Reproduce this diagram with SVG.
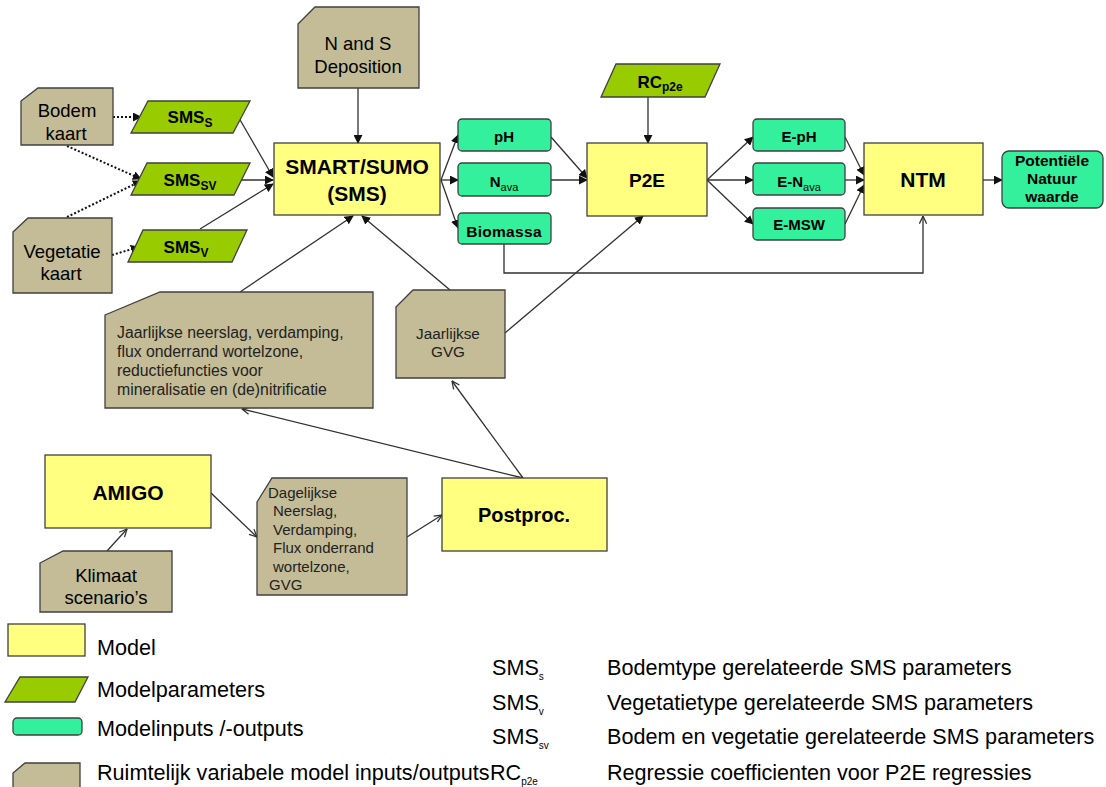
<svg xmlns="http://www.w3.org/2000/svg" width="1106" height="787" viewBox="0 0 1106 787">
<style>
text{font-family:"Liberation Sans",Arial,sans-serif;fill:#000}
.model{fill:#FFFF80;stroke:#404040;stroke-width:1.3}
.param{fill:#99CC00;stroke:#404040;stroke-width:1.3}
.io{fill:#33F09C;stroke:#404040;stroke-width:1.3}
.tan{fill:#C4BC96;stroke:#404040;stroke-width:1.3}
.b{font-weight:bold}
.c{text-anchor:middle}
.ln{fill:none;stroke:#303030;stroke-width:1.3}
.dot{fill:none;stroke:#111;stroke-width:2;stroke-dasharray:2 2}
.leg{font-size:21.6px}
.sm{fill:#222}
</style>
<defs>
<marker id="af" viewBox="0 0 10 10" refX="9" refY="5" markerWidth="9" markerHeight="9" markerUnits="userSpaceOnUse" orient="auto">
<path d="M0,0 L10,5 L0,10 Z" fill="#111"/>
</marker>
<marker id="ao" viewBox="0 0 10 10" refX="9.5" refY="5" markerWidth="9" markerHeight="9" markerUnits="userSpaceOnUse" orient="auto">
<path d="M1,1 L9.5,5 L1,9" fill="none" stroke="#303030" stroke-width="1.4"/>
</marker>
</defs>

<g id="connectors">
<path class="dot" d="M113,117 L141,117" marker-end="url(#af)"/>
<path class="dot" d="M67,146 L141,179" marker-end="url(#af)"/>
<path class="dot" d="M67,217 L141,181" marker-end="url(#af)"/>
<path class="dot" d="M112,255 L139,247" marker-end="url(#af)"/>
<path class="ln" d="M239,118 L273,177" marker-end="url(#af)"/>
<path class="ln" d="M238,180 L273,180" marker-end="url(#af)"/>
<path class="ln" d="M200,229 L273,184" marker-end="url(#af)"/>
<path class="ln" d="M358,88 L358,143" marker-end="url(#af)"/>
<path class="ln" d="M240,292 L353,216" marker-end="url(#af)"/>
<path class="ln" d="M450,290 L362,216" marker-end="url(#af)"/>
<path class="ln" d="M441,180 L458,135" marker-end="url(#af)"/>
<path class="ln" d="M441,180 L458,180" marker-end="url(#af)"/>
<path class="ln" d="M441,180 L458,228" marker-end="url(#af)"/>
<path class="ln" d="M551,137 L587,178" marker-end="url(#af)"/>
<path class="ln" d="M551,180 L587,180" marker-end="url(#af)"/>
<path class="ln" d="M648,97 L648,143" marker-end="url(#af)"/>
<path class="ln" d="M505,333 L643,216" marker-end="url(#af)"/>
<path class="ln" d="M707,180 L753,137" marker-end="url(#af)"/>
<path class="ln" d="M707,180 L753,180" marker-end="url(#af)"/>
<path class="ln" d="M707,180 L753,224" marker-end="url(#af)"/>
<path class="ln" d="M845,137 L864,175" marker-end="url(#af)"/>
<path class="ln" d="M845,180 L864,180" marker-end="url(#af)"/>
<path class="ln" d="M845,224 L864,185" marker-end="url(#af)"/>
<path class="ln" d="M983,180 L1002,180" marker-end="url(#af)"/>
<path class="ln" d="M504,244 L504,273 L923,273 L923,216" marker-end="url(#ao)"/>
<path class="ln" d="M107,551 L127,529" marker-end="url(#ao)"/>
<path class="ln" d="M211,493 L257,537" marker-end="url(#ao)"/>
<path class="ln" d="M407,537 L442,515" marker-end="url(#ao)"/>
<path class="ln" d="M523,478 L242,409" marker-end="url(#ao)"/>
<path class="ln" d="M523,478 L452,381" marker-end="url(#ao)"/>
</g>

<g id="n-deposition">
<path class="tan" d="M298,24 L315,7 L419,7 L419,88 L298,88 Z"/>
<text class="c" x="358" y="50" font-size="18.5">N and S</text>
<text class="c" x="358" y="73" font-size="18.5">Deposition</text>
</g>
<g id="n-bodemkaart">
<path class="tan" d="M21,101 L38,88 L113,88 L113,145 L21,145 Z"/>
<text class="c" x="67" y="117" font-size="18.5">Bodem</text>
<text class="c" x="66" y="140" font-size="18.5">kaart</text>
</g>
<g id="n-vegetatiekaart">
<path class="tan" d="M13,232 L28,218 L112,218 L112,293 L13,293 Z"/>
<text class="c" x="62" y="258" font-size="18.5">Vegetatie</text>
<text class="c" x="61" y="280" font-size="18.5">kaart</text>
</g>
<g id="n-smss">
<path class="param" d="M148,101 L250,101 L233,133 L131,133 Z"/>
<text class="c b" x="190" y="123" font-size="17">SMS<tspan font-size="12" dy="4">S</tspan></text>
</g>
<g id="n-smssv">
<path class="param" d="M147,163 L250,163 L234,195 L131,195 Z"/>
<text class="c b" x="190" y="186" font-size="17">SMS<tspan font-size="12" dy="4">SV</tspan></text>
</g>
<g id="n-smsv">
<path class="param" d="M143,230 L247,230 L232,262 L128,262 Z"/>
<text class="c b" x="186" y="253" font-size="17">SMS<tspan font-size="12" dy="4">V</tspan></text>
</g>
<g id="n-smart">
<rect class="model" x="274" y="143" width="166" height="72"/>
<text class="c b" x="357" y="174" font-size="21">SMART/SUMO</text>
<text class="c b" x="357" y="201" font-size="21">(SMS)</text>
</g>
<g id="n-ph">
<rect class="io" x="458" y="119" width="93" height="32" rx="4"/>
<text class="c b" x="504" y="142" font-size="15">pH</text>
</g>
<g id="n-nava">
<rect class="io" x="458" y="163" width="93" height="33" rx="4"/>
<text class="c b" x="504" y="187" font-size="15">N<tspan font-size="11" font-weight="normal" dy="4">ava</tspan></text>
</g>
<g id="n-biomassa">
<rect class="io" x="458" y="213" width="93" height="31" rx="4"/>
<text class="c b" x="504" y="237" font-size="15.5" letter-spacing="0.3">Biomassa</text>
</g>
<g id="n-rc">
<path class="param" d="M616,64 L720,64 L705,97 L601,97 Z"/>
<text class="c b" x="660" y="88" font-size="17">RC<tspan font-size="12" dy="3">p2e</tspan></text>
</g>
<g id="n-p2e">
<rect class="model" x="587" y="143" width="120" height="73"/>
<text class="c b" x="647" y="187" font-size="19">P2E</text>
</g>
<g id="n-eph">
<rect class="io" x="753" y="119" width="92" height="32" rx="4"/>
<text class="c b" x="799" y="142" font-size="15">E-pH</text>
</g>
<g id="n-enava">
<rect class="io" x="753" y="163" width="92" height="32" rx="4"/>
<text class="c b" x="799" y="187" font-size="15">E-N<tspan font-size="11" font-weight="normal" dy="4">ava</tspan></text>
</g>
<g id="n-emsw">
<rect class="io" x="753" y="208" width="92" height="32" rx="4"/>
<text class="c b" x="799" y="230" font-size="15">E-MSW</text>
</g>
<g id="n-ntm">
<rect class="model" x="864" y="143" width="119" height="72"/>
<text class="c b" x="923" y="187" font-size="21">NTM</text>
</g>
<g id="n-potentiele">
<rect class="io" x="1002" y="151" width="101" height="57" rx="7"/>
<text class="c b" x="1052" y="166" font-size="15.5">Potentiële</text>
<text class="c b" x="1052" y="184" font-size="15.5">Natuur</text>
<text class="c b" x="1052" y="202" font-size="15.5">waarde</text>
</g>
<g id="n-jaarlijkse">
<path class="tan" d="M105,315 L160,292 L373,292 L373,408 L105,408 Z"/>
<text class="sm" x="117" y="338" font-size="15.8">Jaarlijkse neerslag, verdamping,</text>
<text class="sm" x="117" y="357" font-size="15.8">flux onderrand wortelzone,</text>
<text class="sm" x="117" y="376" font-size="15.8">reductiefuncties voor</text>
<text class="sm" x="117" y="395" font-size="15.8">mineralisatie en (de)nitrificatie</text>
</g>
<g id="n-gvg">
<path class="tan" d="M396,307 L413,290 L505,290 L505,378 L396,378 Z"/>
<text class="c sm" x="448" y="339" font-size="15.3">Jaarlijkse</text>
<text class="c sm" x="448" y="357" font-size="15.3">GVG</text>
</g>
<g id="n-amigo">
<rect class="model" x="45" y="455" width="166" height="73"/>
<text class="c b" x="128" y="500" font-size="21">AMIGO</text>
</g>
<g id="n-klimaat">
<path class="tan" d="M40,563 L63,551 L172,551 L172,612 L40,612 Z"/>
<text class="c" x="106" y="582" font-size="18.5">Klimaat</text>
<text class="c" x="106" y="604" font-size="18.5">scenario’s</text>
</g>
<g id="n-dagelijkse">
<path class="tan" d="M257,502 L272,478 L407,478 L407,595 L257,595 Z"/>
<text class="sm" x="268" y="498" font-size="15">Dagelijkse</text>
<text class="sm" x="273" y="516" font-size="15">Neerslag,</text>
<text class="sm" x="273" y="535" font-size="15">Verdamping,</text>
<text class="sm" x="273" y="553" font-size="15">Flux onderrand</text>
<text class="sm" x="273" y="572" font-size="15">wortelzone,</text>
<text class="sm" x="269" y="590" font-size="15">GVG</text>
</g>
<g id="n-postproc">
<rect class="model" x="442" y="478" width="165" height="73"/>
<text class="c b" x="524" y="522" font-size="20">Postproc.</text>
</g>

<g id="legend">
<rect class="model" x="8" y="624" width="77" height="32"/>
<text class="leg" x="97" y="655">Model</text>
<path class="param" d="M20,677 L88,677 L75,702 L5,702 Z"/>
<text class="leg" x="97" y="697">Modelparameters</text>
<rect class="io" x="13" y="718" width="69" height="17" rx="4"/>
<text class="leg" x="97" y="736">Modelinputs /-outputs</text>
<path class="tan" d="M13,773 L25,763 L80,763 L80,792 L13,792 Z"/>
<text class="leg" x="97" y="780">Ruimtelijk variabele model inputs/outputs</text>
<text class="leg" x="492" y="675">SMS<tspan font-size="10" dy="5">s</tspan></text>
<text class="leg" x="492" y="710">SMS<tspan font-size="10" dy="5">v</tspan></text>
<text class="leg" x="492" y="744">SMS<tspan font-size="10" dy="5">sv</tspan></text>
<text class="leg" x="490" y="780">RC<tspan font-size="10" dy="5">p2e</tspan></text>
<text class="leg" x="607" y="675">Bodemtype gerelateerde SMS parameters</text>
<text class="leg" x="607" y="710">Vegetatietype gerelateerde SMS parameters</text>
<text class="leg" x="607" y="744">Bodem en vegetatie gerelateerde SMS parameters</text>
<text class="leg" x="607" y="780">Regressie coefficienten voor P2E regressies</text>
</g>
</svg>
